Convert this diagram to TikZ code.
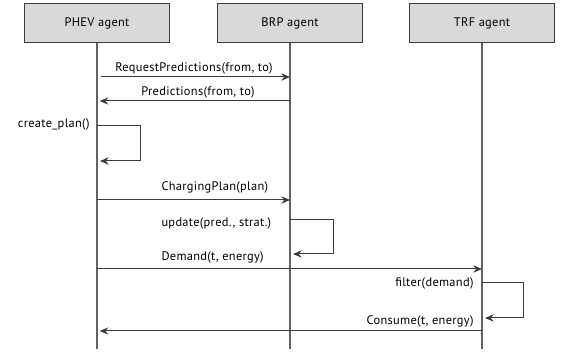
\documentclass[tikz,border=0pt]{standalone}
\usepackage{fontspec}
\setmainfont[LetterSpace=2.5]{PT Sans}
\usetikzlibrary{arrows.meta}

\definecolor{boxgrey}{RGB}{217,217,217}
\definecolor{linegrey}{RGB}{60,60,60}

\tikzset{every picture/.style={line width=0.75pt}}
\tikzset{
  agent/.style={draw=linegrey, fill=boxgrey, minimum width=108.75pt, minimum height=29pt, inner sep=0pt, font=\fontsize{9.3}{11}\selectfont},
  life/.style={draw=linegrey!80, line width=0.9pt},
  msg/.style={draw=linegrey, -{Stealth[length=6.5pt,width=5.5pt]}},
  lbl/.style={inner sep=0pt, anchor=base, font=\fontsize{9.3}{11}\selectfont},
}

\begin{document}
\begin{tikzpicture}[x=0.75pt,y=0.75pt,yscale=-1,xscale=1]
	\useasboundingbox (0,0) rectangle (562,352);

	% Agents
	\node[agent] (phev) at (97,23) {PHEV agent};
	\node[agent] (brp) at (290,23) {BRP agent};
	\node[agent] (trf) at (482,23) {TRF agent};

	% Lifelines
	\coordinate (phevEnd) at (97,349);
	\coordinate (brpEnd) at (290,349);
	\coordinate (trfEnd) at (482,349);
	\draw[life] (phev) -- (phevEnd);
	\draw[life] (brp) -- (brpEnd);
	\draw[life] (trf) -- (trfEnd);

	% Message rows
	\coordinate (req) at (0,77);
	\coordinate (pred) at (0,101);
	\coordinate (cpTop) at (0,126);
	\coordinate (cpBack) at (100,161);
	\coordinate (chg) at (0,200);
	\coordinate (updTop) at (0,220);
	\coordinate (updBack) at (293,254);
	\coordinate (dem) at (0,269);
	\coordinate (filTop) at (0,283);
	\coordinate (filBack) at (485,318);
	\coordinate (con) at (0,331);

	% RequestPredictions
	\draw[msg] ([xshift=3]phev |- req) -- (brp |- req);
	\node[lbl] (reqLbl) at (194,72) {RequestPredictions(from, to)};
	% Predictions
	\draw[msg, shorten >=2pt] (brp |- pred) -- (phev |- pred);
	\node[lbl] (predLbl) at (198,96) {Predictions(from, to)};
	% create_plan
	\draw[msg] (phev |- cpTop) -- ++(43,0) |- (cpBack);
	\node[lbl, anchor=base east] (cpLbl) at (90,128) {create\_plan()};
	% ChargingPlan
	\draw[msg] (phev |- chg) -- (brp |- chg);
	\node[lbl, anchor=base west] (chgLbl) at (161,191) {ChargingPlan(plan)};
	% update
	\draw[msg] (brp |- updTop) -- ++(43,0) |- (updBack);
	\node[lbl, anchor=base west] (updLbl) at (161,227) {update(pred., strat.)};
	% Demand
	\draw[msg] (phev |- dem) -- (trf |- dem);
	\node[lbl, anchor=base west] (demLbl) at (161,261) {Demand(t, energy)};
	% filter
	\draw[msg] (trf |- filTop) -- ++(41,0) |- (filBack);
	\node[lbl, anchor=base east] (filLbl) at (474,287) {filter(demand)};
	% Consume
	\draw[msg, shorten >=2pt] (trf |- con) -- (phev |- con);
	\node[lbl, anchor=base east] (conLbl) at (474,325) {Consume(t, energy)};

\end{tikzpicture}
\end{document}
